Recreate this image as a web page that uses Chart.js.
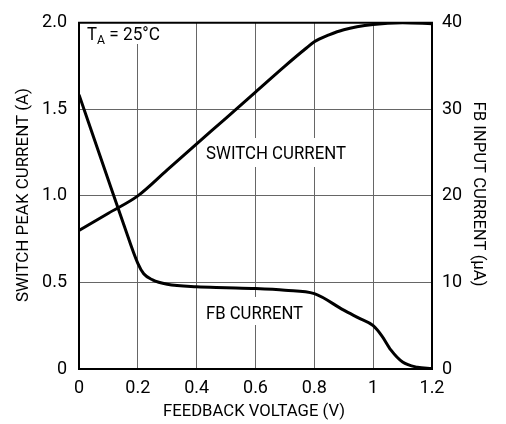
<!DOCTYPE html>
<html><head><meta charset="utf-8">
<script src="https://cdn.jsdelivr.net/npm/chart.js@4"></script>
<style>html,body{margin:0;padding:0;background:#fff;}#wrap{width:506px;height:424px;position:relative;}</style>
</head><body><div id="wrap"><canvas id="c" width="506" height="424"></canvas></div>
<script>
// ---- data ----
const xTicks = [0, 0.2, 0.4, 0.6, 0.8, 1.0, 1.2];
const xTickLabels = ['0', '0.2', '0.4', '0.6', '0.8', '1', '1.2'];
const yLeftTicks = [0, 0.5, 1.0, 1.5, 2.0];
const yLeftTickLabels = ['0', '0.5', '1.0', '1.5', '2.0'];
const yRightTicks = [0, 10, 20, 30, 40];
const yRightTickLabels = ['0', '10', '20', '30', '40'];

const switchV = [0, 0.1, 0.2, 0.3, 0.4, 0.5, 0.6, 0.7, 0.77, 0.8, 0.85, 0.9, 1.0, 1.1, 1.2];
const switchCurrent = [0.8, 0.9, 1.0, 1.15, 1.3, 1.45, 1.6, 1.75, 1.85, 1.89, 1.93, 1.96, 1.99, 2.0, 1.995];

const fbV = [0, 0.1, 0.15, 0.2, 0.22, 0.25, 0.3, 0.4, 0.5, 0.6, 0.7, 0.8, 0.9, 0.95, 1.0, 1.03, 1.06, 1.1, 1.15, 1.2];
const fbCurrent = [31.7, 21.8, 16.9, 12.2, 11.0, 10.3, 9.8, 9.5, 9.4, 9.3, 9.1, 8.7, 6.8, 5.9, 5.0, 3.8, 2.2, 0.8, 0.2, 0.05];

const FAM = 'Roboto, "Liberation Sans", sans-serif';
const tickFont = {family: FAM, size: 18};

// draw text so that it spans a given width (condensed like the original face)
function textW(c, s, x, y, w, align) {
  const m = c.measureText(s).width;
  const k = w / m;
  c.save();
  c.translate(x, y);
  c.scale(k, 1);
  c.textAlign = align || 'left';
  c.fillText(s, 0, 0);
  c.restore();
}

const annot = {
  id: 'annot',
  beforeDatasetsDraw(chart) {
    const c = chart.ctx;
    c.save();
    c.fillStyle = '#fff';
    c.fillRect(84, 19, 80, 25);
    c.fillRect(203, 138, 146, 29);
    c.fillRect(203, 297, 103, 28);
    c.restore();
  },
  afterDraw(chart) {
    const c = chart.ctx, a = chart.chartArea;
    c.save();
    c.strokeStyle = '#000'; c.lineWidth = 2;
    c.beginPath(); c.moveTo(a.left - 1, a.top); c.lineTo(a.right + 1, a.top); c.stroke();
    c.fillStyle = '#000';
    c.textBaseline = 'alphabetic';
    // T_A label
    c.font = '18px ' + FAM;
    textW(c, 'T', 87, 40, 10);
    c.font = '13px ' + FAM;
    textW(c, 'A', 97, 44, 8);
    c.font = '18px ' + FAM;
    textW(c, ' = 25°C', 105, 40, 55);
    // curve labels
    textW(c, 'SWITCH CURRENT', 206, 158.5, 140);
    textW(c, 'FB CURRENT', 206, 318.5, 97);
    // axis titles
    c.textBaseline = 'middle';
    c.font = '17px ' + FAM;
    textW(c, 'FEEDBACK VOLTAGE (V)', 254, 412, 182, 'center');
    c.save();
    c.translate(24, 195); c.rotate(-Math.PI / 2);
    textW(c, 'SWITCH PEAK CURRENT (A)', 0, 0, 214, 'center');
    c.restore();
    c.save();
    c.translate(478, 194); c.rotate(Math.PI / 2);
    textW(c, 'FB INPUT CURRENT (µA)', 0, 0, 185, 'center');
    c.restore();
    c.restore();
  }
};

new Chart(document.getElementById('c'), {
  type: 'line',
  data: {
    datasets: [
      {label: 'SWITCH CURRENT', data: switchV.map((x, i) => ({x, y: switchCurrent[i]})), yAxisID: 'y',
       borderColor: '#000', borderWidth: 3, pointRadius: 0, cubicInterpolationMode: 'monotone', fill: false},
      {label: 'FB CURRENT', data: fbV.map((x, i) => ({x, y: fbCurrent[i]})), yAxisID: 'y2',
       borderColor: '#000', borderWidth: 3, pointRadius: 0, cubicInterpolationMode: 'monotone', fill: false}
    ]
  },
  options: {
    responsive: false, animation: false,
    layout: {padding: {top: 17, left: 0, right: 0, bottom: 0}},
    plugins: {legend: {display: false}, tooltip: {enabled: false}},
    scales: {
      x: {
        type: 'linear', min: 0, max: 1.2,
        afterBuildTicks: s => { s.ticks = xTicks.map(v => ({value: v})); },
        afterFit: s => { s.height = 55; },
        ticks: {callback: (v, i) => xTickLabels[i], font: tickFont, color: '#000', padding: 9, maxRotation: 0, autoSkip: false},
        grid: {color: '#666', lineWidth: 1, drawTicks: false},
        border: {color: '#000', width: 2}
      },
      y: {
        position: 'left', min: 0, max: 2,
        afterBuildTicks: s => { s.ticks = yLeftTicks.map(v => ({value: v})); },
        afterFit: s => { s.width = 79; },
        ticks: {callback: (v, i) => yLeftTickLabels[i], font: tickFont, color: '#000', padding: 12, autoSkip: false},
        grid: {color: '#666', lineWidth: 1, drawTicks: false},
        border: {color: '#000', width: 2}
      },
      y2: {
        position: 'right', min: 0, max: 40,
        afterBuildTicks: s => { s.ticks = yRightTicks.map(v => ({value: v})); },
        afterFit: s => { s.width = 74; },
        ticks: {callback: (v, i) => yRightTickLabels[i], font: tickFont, color: '#000', padding: 10, autoSkip: false},
        grid: {display: false, drawTicks: false},
        border: {color: '#000', width: 2}
      }
    }
  },
  plugins: [annot]
});
</script></body></html>
